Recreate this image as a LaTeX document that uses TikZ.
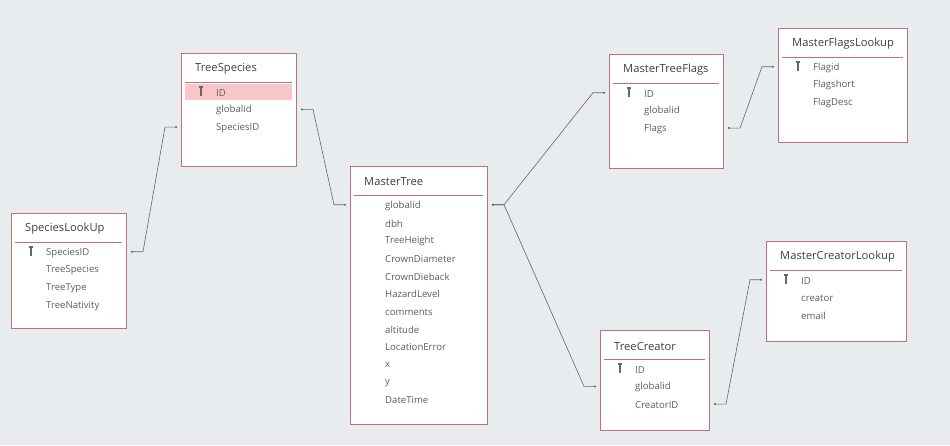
\documentclass[tikz,border=0pt]{standalone}
\usepackage{fontspec}
\setmainfont{Open Sans}
\usetikzlibrary{arrows.meta, calc}

\definecolor{bg}{HTML}{E9ECEF}
\definecolor{edge}{HTML}{C0707A}
\definecolor{hl}{HTML}{F7C6C8}
\definecolor{ink}{HTML}{404040}

\tikzset{
  tbl/.style = {draw=edge, fill=white, line width=0.8pt},
  title/.style = {anchor=west, font=\fontsize{11.2}{13}\selectfont, text=ink, inner sep=0},
  field/.style = {anchor=west, font=\fontsize{9.6}{11}\selectfont, text=ink!85, inner sep=0},
  rel/.style = {draw=ink!80, line width=0.6pt, {Circle[length=2pt]}-{Circle[length=2pt]}},
}

% \dbtable{name}{x1}{y1}{x2}{y2}{title}{fields}{key}{highlight}
\newcommand{\dbtable}[9]{
  \path[tbl] (#2,#3) rectangle (#4,#5);
  \ifnum#9>0
    \fill[hl] (#2+4,#3+21+17.7*#9-8) rectangle (#4-4,#3+21+17.7*#9+8);
  \fi
  \node[title] (#1-t) at (#2+14,#3+16) {#6};
  \draw[edge, line width=0.6pt] (#2+4,#3+29) -- (#4-4,#3+29);
  \foreach \f [count=\i] in {#7} {
    \node[field] (#1-\i) at (#2+35,#3+22+17.7*\i) {\f};
    \coordinate (#1-\i-l) at (#2-4,#3+21+17.7*\i);
    \coordinate (#1-\i-r) at (#4+5,#3+21+17.7*\i);
  }
  \ifnum#8=1
    \fill[ink!80] (#2+18,#3+33) rectangle (#2+22,#3+35);
    \fill[ink!80] (#2+18.8,#3+35) rectangle (#2+21.2,#3+42.5);
  \fi
}

\begin{document}
\begin{tikzpicture}[x=1pt, y=-1pt]
  \fill[bg] (0,0) rectangle (950,445);

  \dbtable{sl}{11}{213}{126}{328}{SpeciesLookUp}{SpeciesID,TreeSpecies,TreeType,TreeNativity}{1}{0}
  \dbtable{ts}{181}{53}{296}{166}{TreeSpecies}{ID,globalid,SpeciesID}{1}{1}
  \dbtable{mt}{350}{166}{487}{424}{MasterTree}{globalid,dbh,TreeHeight,CrownDiameter,CrownDieback,HazardLevel,comments,altitude,LocationError,x,y,DateTime}{0}{0}
  \dbtable{mf}{609}{54}{723}{168}{MasterTreeFlags}{ID,globalid,Flags}{1}{0}
  \dbtable{fl}{778}{28}{907}{142}{MasterFlagsLookup}{Flagid,Flagshort,FlagDesc}{1}{0}
  \dbtable{tc}{600}{330}{709}{430}{TreeCreator}{ID,globalid,CreatorID}{1}{0}
  \dbtable{cl}{766}{241}{906}{341}{MasterCreatorLookup}{ID,creator,email}{1}{0}

  % relationships
  \draw[rel] (sl-1-r) -- ++(12,0) -- ($(ts-3-l)+(-12,0)$) -- (ts-3-l);
  \draw[rel] (ts-2-r) -- ++(12,0) -- ($(mt-1-l)+(-12,0)$) -- (mt-1-l);
  \draw[rel] (mt-1-r) -- ++(12,0) -- ($(mf-2-l)+(-12,-17.7)$) -- ($(mf-2-l)+(0,-17.7)$);
  \draw[rel] (mt-1-r) -- ++(12,0) -- ($(tc-2-l)+(-12,0)$) -- (tc-2-l);
  \draw[rel] (mf-3-r) -- ++(12,0) -- ($(fl-1-l)+(-12,0)$) -- (fl-1-l);
  \draw[rel] (tc-3-r) -- ++(12,0) -- ($(cl-1-l)+(-12,0)$) -- (cl-1-l);
\end{tikzpicture}
\end{document}
